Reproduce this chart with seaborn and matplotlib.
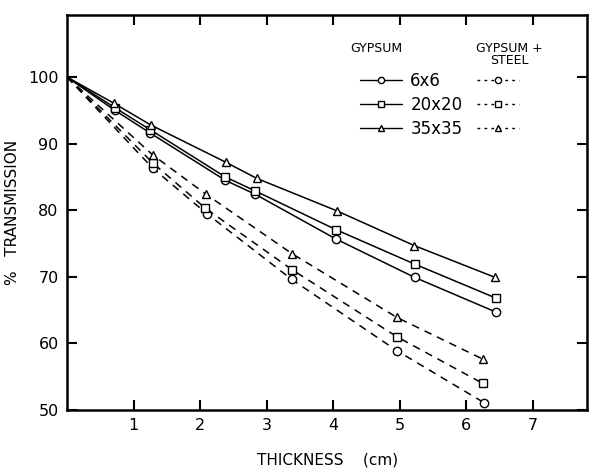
import numpy as np
import pandas as pd
import seaborn as sns
import matplotlib.pyplot as plt
from matplotlib.lines import Line2D

# datos: espesor (cm) vs % transmision
sizes = ['6x6', '20x20', '35x35']
markers = {'6x6': 'o', '20x20': 's', '35x35': '^'}

gyp_x = {
    '6x6':   [0, 0.72, 1.25, 2.38, 2.83, 4.04, 5.23, 6.45],
    '20x20': [0, 0.72, 1.25, 2.38, 2.83, 4.04, 5.23, 6.45],
    '35x35': [0, 0.70, 1.26, 2.39, 2.85, 4.06, 5.22, 6.44],
}
gyp_y = {
    '6x6':   [100, 95.0, 91.6, 84.5, 82.4, 75.7, 69.9, 64.7],
    '20x20': [100, 95.4, 92.1, 85.0, 82.9, 77.1, 71.9, 66.8],
    '35x35': [100, 96.1, 92.8, 87.2, 84.8, 79.9, 74.7, 69.9],
}
steel_x = {
    '6x6':   [0, 1.29, 2.10, 3.38, 4.96, 6.27],
    '20x20': [0, 1.29, 2.08, 3.38, 4.96, 6.25],
    '35x35': [0, 1.29, 2.09, 3.38, 4.96, 6.26],
}
steel_y = {
    '6x6':   [100, 86.3, 79.5, 69.6, 58.9, 51.1],
    '20x20': [100, 87.1, 80.3, 71.1, 61.0, 54.0],
    '35x35': [100, 88.3, 82.4, 73.5, 63.9, 57.6],
}

rows = []
for s in sizes:
    for x, y in zip(gyp_x[s], gyp_y[s]):
        rows.append(('GYPSUM', s, x, y))
    for x, y in zip(steel_x[s], steel_y[s]):
        rows.append(('STEEL', s, x, y))
df = pd.DataFrame(rows, columns=['material', 'size', 'thick', 'trans'])

sns.set_style('ticks')
plt.rcParams['font.family'] = ['DejaVu Sans']
for k in ['text.color', 'axes.labelcolor', 'xtick.color', 'ytick.color', 'axes.edgecolor']:
    plt.rcParams[k] = 'black'

fig = plt.figure(figsize=(5.89, 4.70), dpi=100)
ax = fig.add_axes([0.1138, 0.1277, 0.883, 0.840])

for mat, ls in [('GYPSUM', '-'), ('STEEL', (0, (5, 4)))]:
    for s in sizes:
        sub = df[(df['material'] == mat) & (df['size'] == s)]
        sns.lineplot(data=sub, x='thick', y='trans', ax=ax, color='black',
                     linestyle=ls, linewidth=1.1, marker=markers[s],
                     markersize=6, markerfacecolor='white',
                     markeredgecolor='black', markeredgewidth=1.0,
                     markevery=list(range(1, len(sub))),
                     estimator=None, sort=False, legend=False)

ax.set_xlim(0, 7.82)
ax.set_ylim(50, 109.3)
ax.set_xticks(range(1, 8))
ax.set_yticks(range(50, 101, 10))
ax.tick_params(direction='in', length=7, width=1.5, labelsize=11.5,
               top=True, right=True, pad=6)
for sp in ax.spines.values():
    sp.set_linewidth(1.8)
ax.set_xlabel('THICKNESS    (cm)', fontsize=11, labelpad=14)
ax.set_ylabel('%   TRANSMISSION', fontsize=11, labelpad=6)

# leyenda a mano: dos columnas (solido / discontinuo)
handles = []
for ls in ['-', (0, (2, 3))]:
    for s in sizes:
        handles.append(Line2D([], [], color='black', linestyle=ls, linewidth=1.0,
                              marker=markers[s], markersize=4.5,
                              markerfacecolor='white', markeredgecolor='black'))
labels = sizes + ['', '', '']
ax.legend(handles, labels, ncol=2, loc='upper left',
          bbox_to_anchor=(0.535, 0.895), frameon=False, fontsize=12,
          handlelength=2.5, handletextpad=0.5, columnspacing=0.9,
          labelspacing=0.38)
ax.text(0.595, 0.915, 'GYPSUM', transform=ax.transAxes, fontsize=9,
        ha='center', va='center')
ax.text(0.85, 0.90, 'GYPSUM +\nSTEEL', transform=ax.transAxes, fontsize=9,
        ha='center', va='center', linespacing=0.95)

fig.savefig('out.png', dpi=100)
